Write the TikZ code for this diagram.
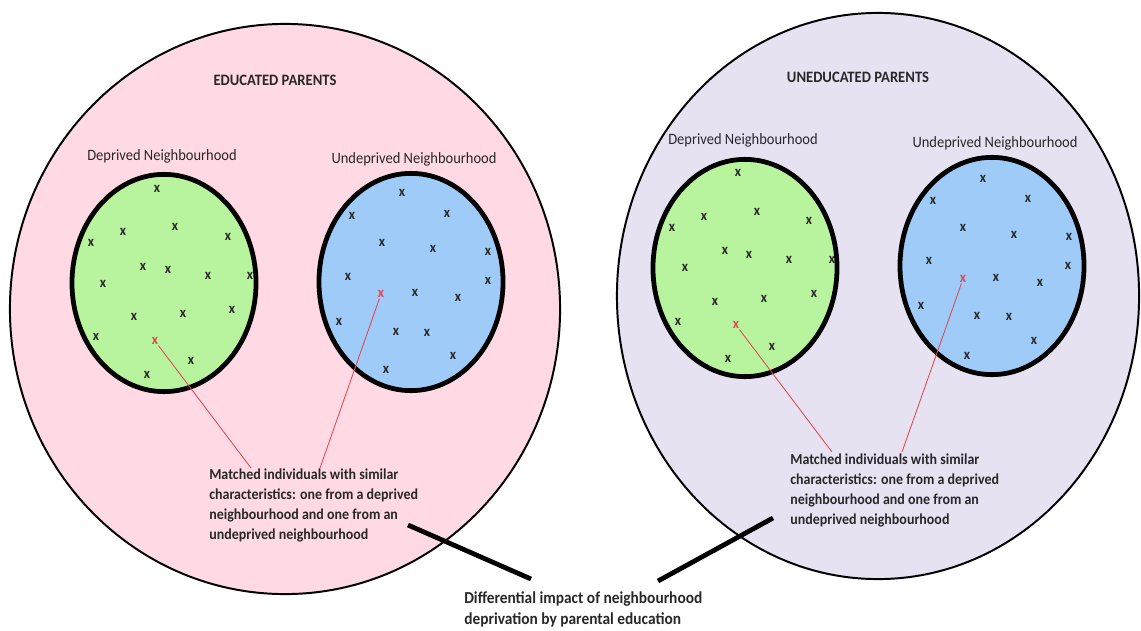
\documentclass[tikz,border=0pt]{standalone}
\usepackage{fontspec}
\setmainfont[FakeStretch=0.92]{Carlito}
\usetikzlibrary{shapes.geometric,positioning}
\definecolor{edupink}{RGB}{255,218,228}
\definecolor{unedlilac}{RGB}{230,226,242}
\definecolor{depgreen}{RGB}{184,244,158}
\definecolor{undepblue}{RGB}{158,203,248}
\definecolor{matchred}{RGB}{226,70,80}
\definecolor{inkgray}{RGB}{40,40,40}

\begin{document}
\begin{tikzpicture}[x=0.025cm,y=-0.025cm,
    parents/.style={ellipse,draw,line width=1.4pt,inner sep=0pt},
    hood/.style={ellipse,draw,line width=3.4pt,inner sep=0pt,minimum width=4.6cm,minimum height=5.43cm},
    cross/.style={inner sep=0.5pt,font=\fontsize{10.5}{10}\selectfont\bfseries,text=inkgray},
    title/.style={font=\fontsize{11.3}{12}\selectfont\bfseries,text=inkgray},
    hoodlabel/.style={font=\fontsize{11.2}{12}\selectfont,text=inkgray},
    note/.style={align=left,font=\fontsize{10.8}{14.2}\selectfont\bfseries,text=inkgray,inner sep=0pt},
    matchline/.style={draw=matchred,line width=0.6pt},
    link/.style={line width=3.4pt}]
  \useasboundingbox[fill=white] (0,0) rectangle (1141,630);

  % the two parent groups
  \node[parents,fill=edupink,minimum width=13.75cm,minimum height=14.25cm] (edu) at (285,309) {};
  \node[parents,fill=unedlilac,minimum width=13.05cm,minimum height=14.15cm] (uned) at (878,296) {};
  \node[title] (edu_title) at (275,80) {EDUCATED PARENTS};
  \node[title] (uned_title) at (858,77) {UNEDUCATED PARENTS};

  % neighbourhoods
  \node[hood,fill=depgreen] (edu_dep) at (164,283) {};
  \node[hood,fill=undepblue] (edu_undep) at (411,282) {};
  \node[hood,fill=depgreen] (uned_dep) at (745,268) {};
  \node[hood,fill=undepblue] (uned_undep) at (992,266) {};
  \node[hoodlabel] (edu_dep_label) at (162,156) {Deprived Neighbourhood};
  \node[hoodlabel] (edu_undep_label) at (414,159) {Undeprived Neighbourhood};
  \node[hoodlabel] (uned_dep_label) at (743,140) {Deprived Neighbourhood};
  \node[hoodlabel] (uned_undep_label) at (995,143) {Undeprived Neighbourhood};

  % individuals
  \foreach \px/\py [count=\i] in {157/189,123/232,175/227,91/243,228/237,143/267,168/270,
      208/276,250/276,103/284,134/317,183/314,232/310,96/337,191/361,147/375}
    \node[cross] (edu_dep_\i) at (\px,\py) {x};
  \foreach \px/\py [count=\i] in {402/193,352/216,447/214,382/243,433/249,488/252,348/277,
      488/281,415/293,458/298,339/322,396/332,427/333,453/356,386/370}
    \node[cross] (edu_undep_\i) at (\px,\py) {x};
  \foreach \px/\py [count=\i] in {738/173,704/217,757/212,672/228,809/221,725/251,749/255,
      789/260,832/260,685/268,715/302,764/299,814/294,678/322,772/347,728/359}
    \node[cross] (uned_dep_\i) at (\px,\py) {x};
  \foreach \px/\py [count=\i] in {983/179,933/201,1028/199,963/228,1014/235,1069/237,929/261,
      1068/266,996/278,1040/283,921/306,977/316,1009/317,1034/341,967/356}
    \node[cross] (uned_undep_\i) at (\px,\py) {x};

  % matched pairs
  \node[cross,text=matchred] (edu_dep_m) at (155,341) {x};
  \node[cross,text=matchred] (edu_undep_m) at (381,294) {x};
  \node[cross,text=matchred] (uned_dep_m) at (736,325) {x};
  \node[cross,text=matchred] (uned_undep_m) at (963,279) {x};

  \node[note,anchor=north west] (edu_note) at (209,469) {Matched individuals with similar\\
    characteristics: one from a deprived\\neighbourhood and one from an\\undeprived neighbourhood};
  \node[note,anchor=north west] (uned_note) at (790,454) {Matched individuals with similar\\
    characteristics: one from a deprived\\neighbourhood and one from an\\undeprived neighbourhood};
  \node[note,anchor=north west,font=\fontsize{11.9}{15.6}\selectfont\bfseries] (diff) at (464,591)
    {Differential impact of neighbourhood\\deprivation by parental education};

  \coordinate (edu_pin_a) at (251,468);
  \coordinate (edu_pin_b) at (320,468);
  \coordinate (uned_pin_a) at (832,452);
  \coordinate (uned_pin_b) at (902,452);
  \path[matchline]
    (edu_dep_m) -- (edu_pin_a)
    (edu_undep_m) -- (edu_pin_b)
    (uned_dep_m) -- (uned_pin_a)
    (uned_undep_m) -- (uned_pin_b);

  \coordinate (edu_tip) at (408,525);
  \coordinate (uned_tip) at (773,518);
  \coordinate (diff_left) at (531,579);
  \coordinate (diff_right) at (658,581);
  \draw[link] (edu_tip) -- (diff_left);
  \draw[link] (uned_tip) -- (diff_right);
\end{tikzpicture}
\end{document}
